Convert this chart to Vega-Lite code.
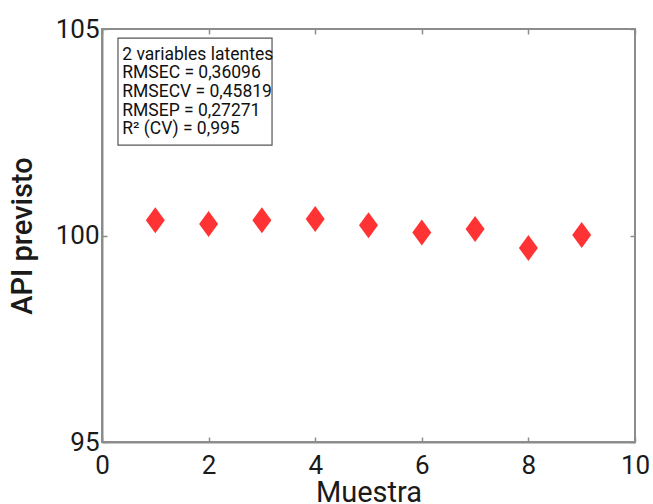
{
  "$schema": "https://vega.github.io/schema/vega-lite/v6.json",
  "width": 533,
  "height": 413,
  "autosize": "none",
  "padding": {"left": 102, "top": 29, "right": 18, "bottom": 62},
  "background": "white",
  "datasets": {
    "muestras": [
      {"Muestra": 1, "API": 100.37},
      {"Muestra": 2, "API": 100.28},
      {"Muestra": 3, "API": 100.37},
      {"Muestra": 4, "API": 100.40},
      {"Muestra": 5, "API": 100.25},
      {"Muestra": 6, "API": 100.07},
      {"Muestra": 7, "API": 100.16},
      {"Muestra": 8, "API": 99.70},
      {"Muestra": 9, "API": 100.01}
    ]
  },
  "config": {
    "font": "Roboto",
    "view": {"stroke": "#8c8c8c", "strokeWidth": 2},
    "axis": {
      "grid": false,
      "domainColor": "#8c8c8c",
      "domainWidth": 2,
      "tickColor": "#8c8c8c",
      "tickWidth": 1.5,
      "tickSize": -5,
      "labelFont": "Roboto",
      "labelFontSize": 26,
      "labelFlush": false,
      "labelColor": "#1a1a1a",
      "titleFont": "Roboto",
      "titleFontSize": 29,
      "titleFontWeight": 500,
      "titleColor": "#1a1a1a"
    }
  },
  "layer": [
    {
      "data": {"name": "muestras"},
      "mark": {"type": "point", "shape": "M0,-1.37L1,0L0,1.37L-1,0Z", "filled": true, "size": 361, "color": "#ff3333", "opacity": 1},
      "encoding": {
        "x": {"field": "Muestra", "type": "quantitative", "scale": {"domain": [0, 10], "nice": false, "zero": false},
              "axis": {"orient": "bottom", "values": [0, 2, 4, 6, 8, 10], "title": "Muestra", "labelPadding": 15, "titleFontWeight": "normal", "titlePadding": 0}},
        "y": {"field": "API", "type": "quantitative", "scale": {"domain": [95, 105], "nice": false, "zero": false},
              "axis": {"orient": "left", "values": [95, 100, 105], "title": "API previsto", "labelPadding": 8, "titlePadding": 18}}
      }
    },
    {
      "data": {"name": "muestras"},
      "mark": {"type": "point", "opacity": 0},
      "encoding": {
        "x": {"field": "Muestra", "type": "quantitative", "axis": {"orient": "top", "values": [0, 2, 4, 6, 8, 10], "labels": false, "title": null, "domain": false}},
        "y": {"field": "API", "type": "quantitative", "axis": {"orient": "right", "values": [95, 100, 105], "labels": false, "title": null, "domain": false}}
      }
    },
    {
      "data": {"values": [{}]},
      "mark": {"type": "rect", "fill": "white", "stroke": "#555555", "strokeWidth": 1.2},
      "encoding": {
        "x": {"datum": 0.3, "type": "quantitative", "axis": null},
        "x2": {"datum": 3.19},
        "y": {"datum": 104.78, "type": "quantitative", "axis": null},
        "y2": {"datum": 102.19}
      }
    },
    {
      "data": {"values": [{}]},
      "mark": {"type": "text", "align": "left", "baseline": "top", "font": "Roboto", "fontSize": 17.5, "lineHeight": 18.7, "color": "#111111"},
      "encoding": {
        "x": {"datum": 0.38, "type": "quantitative", "axis": null},
        "y": {"datum": 104.6, "type": "quantitative", "axis": null},
        "text": {"value": ["2 variables latentes", "RMSEC = 0,36096", "RMSECV = 0,45819", "RMSEP = 0,27271", "R² (CV) = 0,995"]}
      }
    }
  ],
  "resolve": {"axis": {"x": "independent", "y": "independent"}}
}
